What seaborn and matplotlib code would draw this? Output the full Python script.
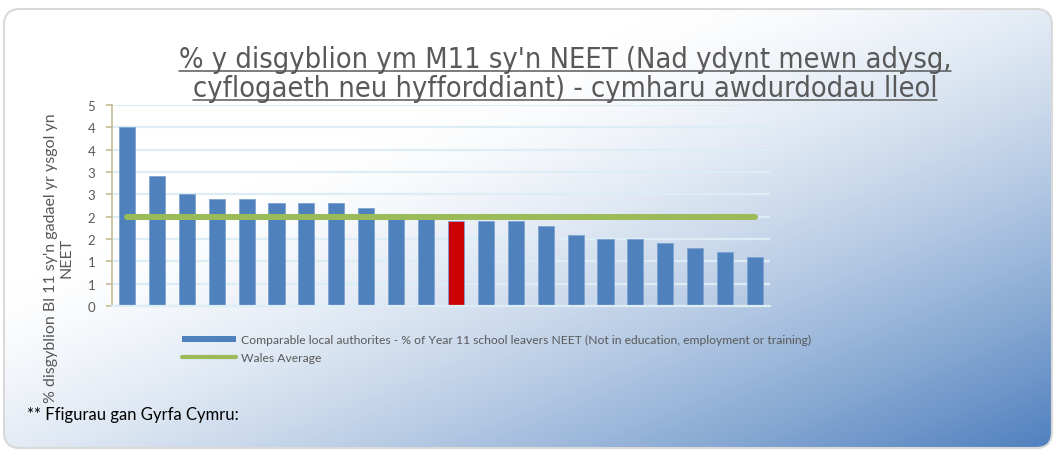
import numpy as np
import matplotlib.pyplot as plt
import seaborn as sns
from matplotlib.patches import FancyBboxPatch, Patch
from matplotlib.lines import Line2D

# data
authorities = [f'ALl {i}' for i in range(1, 23)]
neet_pct = [4.0, 2.9, 2.5, 2.4, 2.4, 2.3, 2.3, 2.3, 2.2, 2.0, 2.0,
            1.9, 1.9, 1.9, 1.8, 1.6, 1.5, 1.5, 1.4, 1.3, 1.2, 1.1]
highlight = 11  # the red bar
wales_average = 2.0
y_ticks = [0, 0.5, 1.0, 1.5, 2.0, 2.5, 3.0, 3.5, 4.0, 4.5]
y_tick_labels = ['0', '1', '1', '2', '2', '3', '3', '4', '4', '5']

title_lines = ["% y disgyblion ym M11 sy'n NEET (Nad ydynt mewn adysg,",
               "cyflogaeth neu hyfforddiant) - cymharu awdurdodau lleol"]
y_label = "% disgyblion Bl 11 sy'n gadael yr ysgol yn\nNEET"
legend_bar = ("Comparable local authorites - % of Year 11 school leavers NEET "
              "(Not in education, employment or training)")
legend_line = "Wales Average"
footer = "** Ffigurau gan Gyrfa Cymru:"

sns.set_style('white')
plt.rcParams['font.family'] = ['Lato', 'DejaVu Sans']

BLUE = '#4f81bd'
RED = '#cc0000'
GREEN = '#9bbb59'
GREY = '#595959'

W, H = 1056, 452
fig = plt.figure(figsize=(W / 100, H / 100), dpi=100)

# background panel with diagonal gradient
bg = fig.add_axes([0, 0, 1, 1])
bg.set_xlim(0, W)
bg.set_ylim(H, 0)
bg.axis('off')
gx, gy = np.meshgrid(np.linspace(0, 1, 400), np.linspace(0, 1, 200))
s = (gx + gy) / 2
t = np.clip((s - 0.32) / 0.68, 0, 1) ** 1.4
c0 = np.array([1.0, 1.0, 1.0])
c1 = np.array([0x4f, 0x80, 0xbe]) / 255
img = c0[None, None, :] * (1 - t[..., None]) + c1[None, None, :] * t[..., None]
panel = FancyBboxPatch((4, 10), 1048, 439, boxstyle='round,pad=0,rounding_size=16',
                       facecolor='none', edgecolor='#d9d9d9', lw=1.5, zorder=3)
bg.add_patch(panel)
im = bg.imshow(img, extent=(4, 1052, 449, 10), aspect='auto', zorder=1)
im.set_clip_path(panel)

# main chart
ax = fig.add_axes([112 / W, 1 - 307 / H, (770 - 112) / W, (307 - 106) / H])
ax.set_facecolor('none')
colors = [RED if i == highlight else BLUE for i in range(len(authorities))]
sns.barplot(x=authorities, y=neet_pct, hue=authorities, palette=colors,
            legend=False, width=0.54, saturation=1, ax=ax, zorder=2,
            edgecolor='#7fa3d1', linewidth=0.6)
ax.plot(range(len(authorities)), [wales_average] * len(authorities),
        color=GREEN, lw=4.3, solid_capstyle='round', zorder=3)

ax.set_xlim(-0.5, len(authorities) - 0.5)
ax.set_ylim(0, 4.5)
ax.set_yticks(y_ticks)
ax.set_yticklabels(y_tick_labels, color=GREY, fontsize=9.5)
ax.set_xticks([])
ax.set_xlabel('')
ax.yaxis.grid(True, color='#dcedf5', lw=1.6, zorder=0)
ax.set_axisbelow(True)
for side in ['top', 'right']:
    ax.spines[side].set_visible(False)
ax.spines['left'].set_color('#c4bd97')
ax.spines['left'].set_linewidth(1.2)
ax.spines['bottom'].set_color('#dcedf5')
ax.spines['bottom'].set_linewidth(1.6)
ax.tick_params(axis='y', left=True, length=4, width=1.2, color='#c4bd97', pad=8)

fig.text(59 / W, 1 - 258 / H, y_label, rotation=90, ha='center', va='center',
         color=GREY, fontsize=11.5, multialignment='center', linespacing=1.1)

# title with underline
title_y = [68, 97]
title_texts = []
for line, yb in zip(title_lines, title_y):
    tt = fig.text(565 / W, 1 - yb / H, line, ha='center', va='baseline',
                  color=GREY, fontsize=20.8, family='DejaVu Sans',
                  fontstretch='condensed')
    title_texts.append(tt)
fig.canvas.draw()
r = fig.canvas.get_renderer()
for tt, yb in zip(title_texts, title_y):
    bb = tt.get_window_extent(r)
    yy = 1 - (yb + 4) / H
    fig.add_artist(Line2D([bb.x0 / W, bb.x1 / W], [yy, yy], color=GREY, lw=1.1))

handles = [Patch(facecolor=BLUE, edgecolor='none', label=legend_bar),
           Line2D([0], [0], color=GREEN, lw=3, label=legend_line)]
fig.legend(handles=handles, loc='upper left', bbox_to_anchor=(176 / W, 1 - 329 / H),
           frameon=False, fontsize=8.75, labelcolor=GREY, handlelength=4.4,
           handleheight=0.45, handletextpad=0.42, labelspacing=0.55, borderpad=0)

fig.text(27 / W, 1 - 420 / H, footer, ha='left', va='baseline', color='black',
         fontsize=12)

fig.savefig('out.png', dpi=100)
